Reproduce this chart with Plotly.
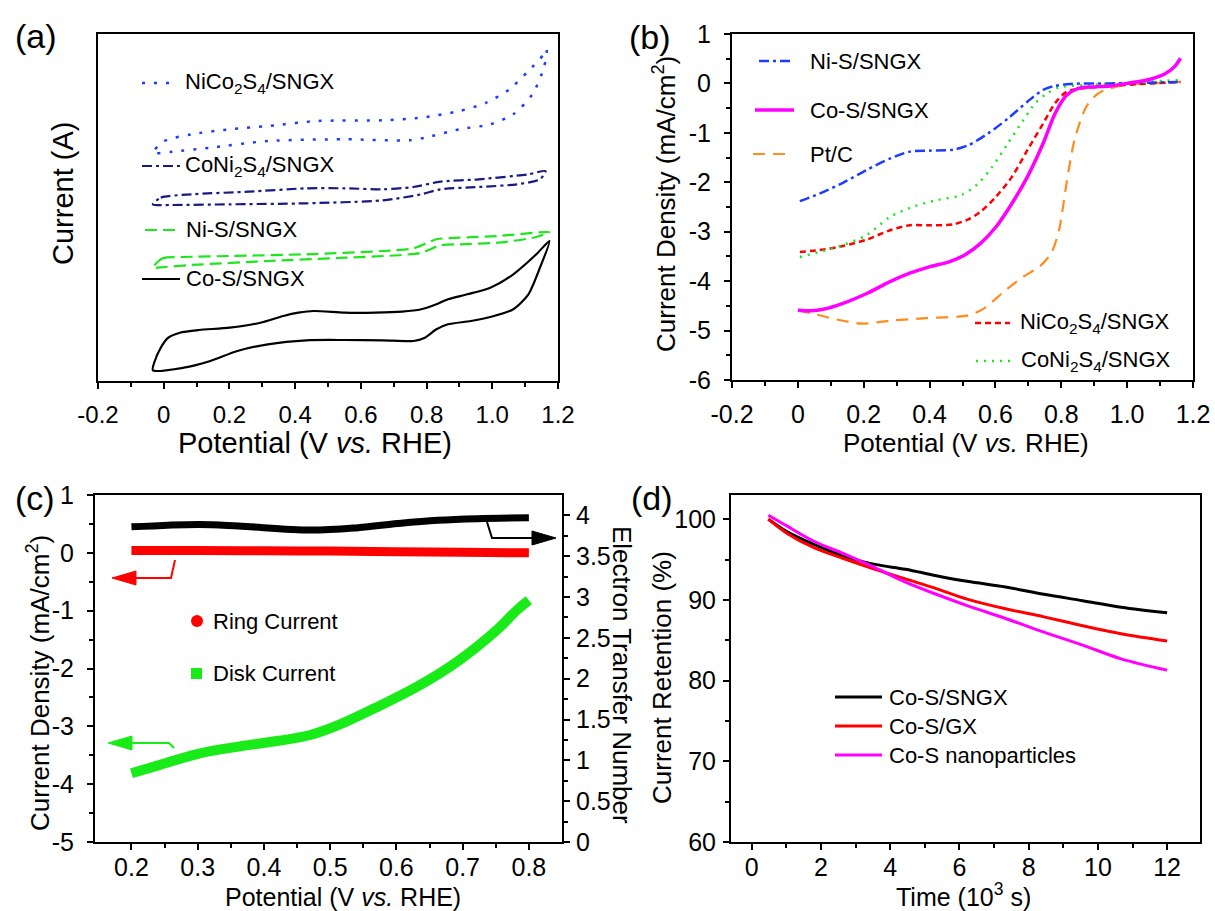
import plotly.graph_objects as go

W, H = 1215, 911
FONT = "Liberation Sans, Arial, sans-serif"

# ---------------- (a) cyclic voltammograms (arbitrary current units) ----------------
cos_cv_v = [-0.033, 0.061, 0.142, 0.224, 0.317, 0.434, 0.550, 0.667, 0.760, 0.795, 0.830, 0.865,
            0.935, 1.005, 1.064, 1.110, 1.145, 1.174, 1.134, 1.064, 0.994, 0.924, 0.865, 0.830,
            0.784, 0.725, 0.644, 0.550, 0.457, 0.410, 0.364, 0.294, 0.201, 0.107, 0.049, 0.014,
            -0.009, -0.027, -0.033]
cos_cv_i = [10.7, 13.3, 20, 30, 36.7, 40.7, 41, 40.7, 40, 43.3, 51.7, 56.7,
            60, 65, 71.7, 86.7, 113.3, 140, 126.7, 106.7, 93.3, 86.7, 81.7, 76.7,
            71.7, 69.3, 68.3, 68.3, 70, 68.3, 65, 58.3, 53.3, 51, 48.3, 43.3,
            33.3, 20, 10.7]

nis_cv_v = [-0.033, -0.003, 0.061, 0.201, 0.434, 0.667, 0.760, 0.830, 0.900, 1.017, 1.174,
            1.134, 1.017, 0.900, 0.842, 0.784, 0.725, 0.550, 0.317, 0.084, 0.002, -0.033]
nis_cv_i = [113.3, 122.7, 124, 125, 126.7, 130, 132.7, 141.7, 143.3, 145, 149,
            144, 138.3, 136.7, 135.7, 128.3, 126, 123.3, 120, 116, 114, 113.3]

coni_cv_v = [-0.033, -0.009, 0.084, 0.259, 0.434, 0.550, 0.667, 0.760, 0.842, 0.959, 1.110, 1.162,
             1.145, 1.075, 0.959, 0.842, 0.784, 0.667, 0.434, 0.201, 0.026, -0.033]
coni_cv_i = [176.7, 183.3, 186.7, 189.3, 192.7, 192.7, 191.7, 194, 199.3, 201.7, 206.7, 210,
             201.7, 196.7, 194, 191.7, 186.7, 180.7, 177.7, 176.7, 176, 176.7]

nico_cv_v = [-0.033, 0.002, 0.084, 0.201, 0.317, 0.469, 0.667, 0.784, 0.900, 0.982, 1.052, 1.110,
             1.157, 1.166, 1.157, 1.122, 1.064, 0.994, 0.900, 0.795, 0.749, 0.550, 0.317, 0.142,
             0.026, -0.033]
nico_cv_i = [228.3, 240, 246.7, 251.7, 255, 260, 260.7, 263.3, 270, 278.3, 291.7, 310,
             326.7, 331.7, 313.3, 286.7, 266.7, 256.7, 251.7, 243.3, 240.7, 241.7, 240, 233.3,
             229.3, 228.3]

# ---------------- (b) LSV polarization curves ----------------
nis_lsv_v = [0.006, 0.066, 0.137, 0.209, 0.280, 0.340, 0.399, 0.471, 0.518, 0.578, 0.638, 0.697,
             0.745, 0.781, 0.828, 0.948, 1.162]
nis_lsv_j = [-2.38, -2.23, -2.01, -1.75, -1.52, -1.38, -1.36, -1.34, -1.25, -1.01, -0.71, -0.37,
             -0.13, -0.05, -0.01, 0.0, 0.03]

cos_lsv_v = [0.0, 0.042, 0.077, 0.137, 0.209, 0.280, 0.340, 0.399, 0.459, 0.507, 0.554, 0.602,
             0.650, 0.697, 0.745, 0.781, 0.816, 0.852, 0.900, 0.948, 1.007, 1.067, 1.114, 1.144, 1.162]
cos_lsv_j = [-4.59, -4.60, -4.57, -4.45, -4.25, -4.01, -3.84, -3.71, -3.61, -3.47, -3.24, -2.90,
             -2.43, -1.89, -1.21, -0.61, -0.24, -0.10, -0.07, -0.05, 0.01, 0.08, 0.19, 0.34, 0.51]

ptc_lsv_v = [0.0, 0.042, 0.113, 0.197, 0.280, 0.387, 0.518, 0.566, 0.626, 0.685, 0.733, 0.769,
             0.793, 0.816, 0.840, 0.876, 0.912, 0.948, 0.995, 1.067, 1.162]
ptc_lsv_j = [-4.59, -4.65, -4.77, -4.86, -4.80, -4.75, -4.69, -4.55, -4.21, -3.91, -3.71, -3.44,
             -2.97, -2.02, -1.15, -0.47, -0.20, -0.10, -0.03, 0.0, 0.03]

nico_lsv_v = [0.006, 0.066, 0.137, 0.209, 0.280, 0.340, 0.399, 0.471, 0.518, 0.554, 0.602, 0.650,
              0.697, 0.745, 0.781, 0.816, 0.864, 0.948, 1.162]
nico_lsv_j = [-3.41, -3.37, -3.29, -3.16, -2.97, -2.87, -2.87, -2.85, -2.75, -2.60, -2.29, -1.89,
              -1.35, -0.81, -0.40, -0.17, -0.10, -0.05, 0.03]

coni_lsv_v = [0.006, 0.066, 0.137, 0.209, 0.280, 0.352, 0.423, 0.495, 0.542, 0.590, 0.638, 0.685,
              0.721, 0.757, 0.793, 0.888, 1.162]
coni_lsv_j = [-3.51, -3.41, -3.27, -3.07, -2.70, -2.49, -2.36, -2.26, -2.06, -1.69, -1.21, -0.74,
              -0.40, -0.20, -0.08, -0.03, 0.07]

# ---------------- (c) RRDE: ring / disk currents and electron transfer number ----------------
ring_v = [0.2, 0.3, 0.4, 0.5, 0.6, 0.7, 0.8]
ring_j = [0.04, 0.04, 0.035, 0.03, 0.02, 0.01, 0.0]

disk_v = [0.2, 0.242, 0.302, 0.362, 0.422, 0.47, 0.512, 0.572, 0.632, 0.692, 0.752, 0.782, 0.8]
disk_j = [-3.81, -3.67, -3.47, -3.35, -3.25, -3.15, -2.98, -2.66, -2.31, -1.88, -1.33, -0.99, -0.82]

etn_v = [0.2, 0.302, 0.362, 0.47, 0.542, 0.602, 0.662, 0.722, 0.8]
etn_n = [3.86, 3.89, 3.87, 3.82, 3.85, 3.90, 3.94, 3.96, 3.97]

# ---------------- (d) chronoamperometric stability ----------------
t_ks = [0.48, 1.0, 1.78, 2.67, 3.56, 4.44, 5.33, 6.22, 7.33, 8.44, 9.56, 10.67, 12.0]
ret_cos_sngx = [100.0, 98.5, 96.9, 95.4, 94.4, 93.8, 93.0, 92.3, 91.6, 90.7, 89.9, 89.1, 88.4]
ret_cos_gx = [100.0, 98.3, 96.5, 95.1, 93.8, 92.6, 91.4, 90.1, 88.9, 87.9, 86.8, 85.8, 84.9]
ret_cos_np = [100.5, 99.2, 97.3, 95.7, 94.0, 92.2, 90.7, 89.3, 87.7, 86.0, 84.4, 82.7, 81.3]

# ---------------- styling ----------------
BLUE = "rgb(30,60,255)"
NAVY = "rgb(25,25,130)"
LGREEN = "rgb(30,230,30)"
MAGENTA = "rgb(255,0,255)"
ORANGE = "rgb(255,140,30)"
RED = "rgb(255,0,0)"
GREEN = "rgb(25,235,25)"

DOT_A = "3px,9px"
DASHDOT = "10px,4px,3px,4px"
DASH_A = "12px,6px"
DASH_PT = "12px,8px"
DASH_RED = "6px,4px"
DOT_B = "2px,6px"


def px(x):
    return x / W


def py(y):
    return 1 - y / H


fig = go.Figure()

# (a)
for v, i, col, dash, w in [
    (nico_cv_v, nico_cv_i, BLUE, DOT_A, 2.5),
    (coni_cv_v, coni_cv_i, NAVY, DASHDOT, 2.2),
    (nis_cv_v, nis_cv_i, LGREEN, DASH_A, 2.2),
    (cos_cv_v, cos_cv_i, "black", "solid", 2.2),
]:
    fig.add_trace(go.Scatter(x=v, y=i, mode="lines", xaxis="x", yaxis="y",
                             line=dict(color=col, dash=dash, width=w, shape="spline", smoothing=0.7),
                             showlegend=False, hoverinfo="skip"))

# (b)
for v, j, col, dash, w in [
    (ptc_lsv_v, ptc_lsv_j, ORANGE, DASH_PT, 2.2),
    (nico_lsv_v, nico_lsv_j, RED, DASH_RED, 2.5),
    (coni_lsv_v, coni_lsv_j, LGREEN, DOT_B, 2.5),
    (nis_lsv_v, nis_lsv_j, BLUE, DASHDOT, 2.5),
    (cos_lsv_v, cos_lsv_j, MAGENTA, "solid", 3.5),
]:
    fig.add_trace(go.Scatter(x=v, y=j, mode="lines", xaxis="x2", yaxis="y2",
                             line=dict(color=col, dash=dash, width=w, shape="spline", smoothing=0.8),
                             showlegend=False, hoverinfo="skip"))

# (c)
fig.add_trace(go.Scatter(x=ring_v, y=ring_j, mode="lines", xaxis="x3", yaxis="y3",
                         line=dict(color=RED, width=9, shape="spline"), showlegend=False, hoverinfo="skip"))
fig.add_trace(go.Scatter(x=disk_v, y=disk_j, mode="lines", xaxis="x3", yaxis="y3",
                         line=dict(color=GREEN, width=10, shape="spline"), showlegend=False, hoverinfo="skip"))
fig.add_trace(go.Scatter(x=etn_v, y=etn_n, mode="lines", xaxis="x3", yaxis="y5",
                         line=dict(color="black", width=7, shape="spline"), showlegend=False, hoverinfo="skip"))

# (d)
for r, col in [(ret_cos_sngx, "black"), (ret_cos_gx, RED), (ret_cos_np, MAGENTA)]:
    fig.add_trace(go.Scatter(x=t_ks, y=r, mode="lines", xaxis="x4", yaxis="y4",
                             line=dict(color=col, width=3, shape="spline"), showlegend=False, hoverinfo="skip"))

axis_common = dict(showline=True, linecolor="black", linewidth=2, ticks="outside", ticklen=6,
                   tickwidth=2, tickcolor="black", showgrid=False, zeroline=False, automargin=False,
                   tickfont=dict(family=FONT, size=24, color="black"))


def minor(vals):
    return dict(tickmode="array", tickvals=vals, ticks="outside", ticklen=4, tickwidth=2,
                tickcolor="black", showgrid=False)


pot_vals = [-0.2, 0, 0.2, 0.4, 0.6, 0.8, 1.0, 1.2]
pot_text = ["-0.2", "0", "0.2", "0.4", "0.6", "0.8", "1.0", "1.2"]
pot_minor = [-0.1, 0.1, 0.3, 0.5, 0.7, 0.9, 1.1]

fig.update_layout(
    width=W, height=H, margin=dict(l=0, r=0, t=0, b=0, autoexpand=False),
    paper_bgcolor="white", plot_bgcolor="white", showlegend=False,
    font=dict(family=FONT, color="black"),
    xaxis=dict(axis_common, domain=[px(98), px(558)], anchor="y", range=[-0.2, 1.2], mirror=True,
               tickmode="array", tickvals=pot_vals, ticktext=pot_text, minor=minor(pot_minor),
               ticklabelstandoff=5),
    yaxis=dict(axis_common, domain=[py(381), py(34)], anchor="x", range=[0, 347], mirror=True,
               ticks="", showticklabels=False),
    xaxis2=dict(axis_common, domain=[px(732), px(1193)], anchor="y2", range=[-0.2, 1.2], mirror=True,
                tickmode="array", tickvals=pot_vals, ticktext=pot_text, minor=minor(pot_minor),
                tickfont=dict(family=FONT, size=25, color="black"), ticklabelstandoff=5),
    yaxis2=dict(axis_common, domain=[py(380), py(34)], anchor="x2", range=[-6, 1], mirror=True,
                tickmode="array", tickvals=[-6, -5, -4, -3, -2, -1, 0, 1],
                ticktext=["-6", "-5", "-4", "-3", "-2", "-1", "0", "1"],
                minor=minor([-5.5, -4.5, -3.5, -2.5, -1.5, -0.5, 0.5]),
                tickfont=dict(family=FONT, size=25, color="black"), ticklabelstandoff=8),
    xaxis3=dict(axis_common, domain=[px(95), px(562)], anchor="y3", range=[0.145, 0.85], mirror=True,
                tickmode="array", tickvals=[0.2, 0.3, 0.4, 0.5, 0.6, 0.7, 0.8],
                ticktext=["0.2", "0.3", "0.4", "0.5", "0.6", "0.7", "0.8"],
                minor=minor([0.25, 0.35, 0.45, 0.55, 0.65, 0.75]),
                tickfont=dict(family=FONT, size=25, color="black"), ticklabelstandoff=-4),
    yaxis3=dict(axis_common, domain=[py(842), py(495)], anchor="x3", range=[-5, 1],
                tickmode="array", tickvals=[-5, -4, -3, -2, -1, 0, 1],
                ticktext=["-5", "-4", "-3", "-2", "-1", "0", "1"],
                minor=minor([-4.5, -3.5, -2.5, -1.5, -0.5, 0.5]),
                tickfont=dict(family=FONT, size=25, color="black"), ticklabelstandoff=8),
    yaxis5=dict(axis_common, overlaying="y3", side="right", anchor="x3", range=[0, 4.25],
                tickmode="array", tickvals=[0, 0.5, 1, 1.5, 2, 2.5, 3, 3.5, 4],
                ticktext=["0", "0.5", "1", "1.5", "2", "2.5", "3", "3.5", "4"],
                minor=minor([0.25, 0.75, 1.25, 1.75, 2.25, 2.75, 3.25, 3.75]),
                tickfont=dict(family=FONT, size=25, color="black"), ticklabelstandoff=1),
    xaxis4=dict(axis_common, domain=[px(731), px(1200)], anchor="y4", range=[-0.6, 12.95], mirror=True,
                tickmode="array", tickvals=[0, 2, 4, 6, 8, 10, 12],
                minor=minor([1, 3, 5, 7, 9, 11]),
                tickfont=dict(family=FONT, size=25, color="black"), ticklabelstandoff=-4),
    yaxis4=dict(axis_common, domain=[py(842), py(495)], anchor="x4", range=[60, 103], mirror=True,
                tickmode="array", tickvals=[60, 70, 80, 90, 100],
                minor=minor([65, 75, 85, 95]),
                tickfont=dict(family=FONT, size=25, color="black"), ticklabelstandoff=2),
)

ann = []
shapes = []


def text(x, y, s, size, xanchor="left", angle=0):
    ann.append(dict(x=px(x), y=py(y), xref="paper", yref="paper", text=s, showarrow=False,
                    xanchor=xanchor, yanchor="middle", textangle=angle,
                    font=dict(family=FONT, size=size, color="black")))


def sample(x0, x1, y, col, dash, w):
    shapes.append(dict(type="line", xref="paper", yref="paper", x0=px(x0), x1=px(x1),
                       y0=py(y), y1=py(y), line=dict(color=col, dash=dash, width=w)))


# panel letters
text(36, 36, "(a)", 34, "center")
text(650, 37, "(b)", 34, "center")
text(35, 498, "(c)", 34, "center")
text(652, 498, "(d)", 34, "center")

# axis titles
POT = "Potential (V <i>vs.</i> RHE)"
CD = "Current Density (mA/cm<sup>2</sup>)"
text(315, 443, POT, 29, "center")
text(63, 194, "Current (A)", 29, "center", -90)
text(966, 443, POT, 26, "center")
text(665, 204, CD, 26, "center", -90)
text(343, 897, POT, 25, "center")
text(38, 683, CD, 26, "center", -90)
text(622, 675, "Electron Transfer Number", 26, "center", 90)
text(963, 895, "Time (10<sup>3</sup> s)", 25, "center")
text(662, 678, "Current Retention (%)", 26, "center", -90)

# (a) labels
sample(142, 172, 83, BLUE, DOT_A, 2.5)
text(183, 83, "NiCo<sub>2</sub>S<sub>4</sub>/SNGX", 22)
sample(142, 180, 166, NAVY, DASHDOT, 2.2)
text(183, 166, "CoNi<sub>2</sub>S<sub>4</sub>/SNGX", 22)
sample(145, 178, 230, LGREEN, DASH_A, 2.2)
text(184, 230, "Ni-S/SNGX", 22)
sample(142, 180, 279, "black", "solid", 2.2)
text(184, 279, "Co-S/SNGX", 22)

# (b) labels
sample(759, 794, 61, BLUE, DASHDOT, 2.5)
text(808, 61, "Ni-S/SNGX", 22)
sample(755, 794, 110, MAGENTA, "solid", 3.5)
text(808, 110, "Co-S/SNGX", 22)
sample(753, 786, 154, ORANGE, DASH_PT, 2.2)
text(808, 154, "Pt/C", 22)
sample(975, 1010, 323, RED, DASH_RED, 2.5)
text(1018, 323, "NiCo<sub>2</sub>S<sub>4</sub>/SNGX", 22)
sample(976, 1010, 361, LGREEN, DOT_B, 2.5)
text(1019, 361, "CoNi<sub>2</sub>S<sub>4</sub>/SNGX", 22)

# (c) labels
shapes.append(dict(type="circle", xref="paper", yref="paper", x0=px(191), x1=px(203),
                   y0=py(627), y1=py(615), fillcolor=RED, line=dict(width=0)))
text(211, 621, "Ring Current", 22)
shapes.append(dict(type="rect", xref="paper", yref="paper", x0=px(191), x1=px(202),
                   y0=py(679), y1=py(668), fillcolor=GREEN, line=dict(width=0)))
text(211, 673, "Disk Current", 22)


def arrow(points, tip, col, direction):
    path = "M " + " L ".join(f"{px(x)},{py(y)}" for x, y in points)
    shapes.append(dict(type="path", xref="paper", yref="paper", path=path,
                       line=dict(color=col, width=2)))
    tx, ty = tip
    base = tx - 24 if direction == "right" else tx + 24
    tri = f"M {px(tx)},{py(ty)} L {px(base)},{py(ty - 7)} L {px(base)},{py(ty + 7)} Z"
    shapes.append(dict(type="path", xref="paper", yref="paper", path=tri,
                       fillcolor=col, line=dict(color=col, width=1)))


arrow([(487, 522), (492, 538), (534, 538)], (556, 538), "black", "right")
arrow([(175, 560), (171, 578), (134, 578)], (112, 578), RED, "left")
arrow([(174, 748), (169, 743), (132, 743)], (108, 743), GREEN, "left")

# (d) labels
sample(835, 882, 697, "black", "solid", 3)
text(887, 697, "Co-S/SNGX", 22)
sample(835, 882, 726, RED, "solid", 3)
text(887, 726, "Co-S/GX", 22)
sample(835, 882, 755, MAGENTA, "solid", 3)
text(887, 755, "Co-S nanoparticles", 22)

fig.update_layout(annotations=ann, shapes=shapes)
# Pin the figure to the page's top-left corner.
fig.write_html("out.html", post_script="document.body.style.margin='0';")
